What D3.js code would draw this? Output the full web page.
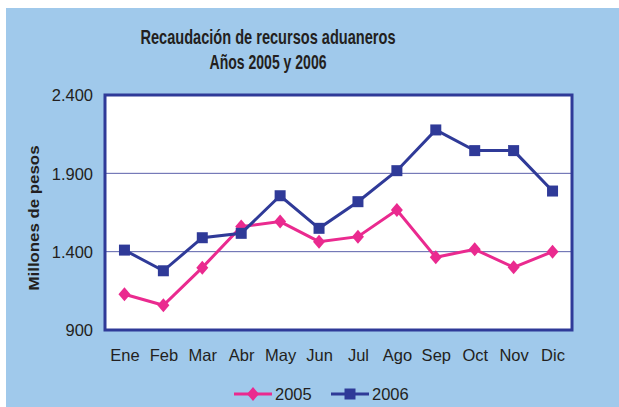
<!DOCTYPE html>
<html lang="es">
<head>
  <meta charset="UTF-8">
  <title>Recaudación de recursos aduaneros</title>
  <script src="https://d3js.org/d3.v7.min.js"></script>
  <style>
    body { margin: 0; background: #fff; }
    svg { display: block; }
    text { font-family: "Liberation Sans Narrow", "Arial Narrow", "Liberation Sans", Arial, sans-serif; fill: #231f20; }
    .ylab { font-family: "Liberation Sans", Arial, sans-serif; font-weight: bold; font-size: 15.5px; }
  </style>
</head>
<body>
<svg id="chart" width="619" height="407"></svg>
<script>
const months = ["Ene", "Feb", "Mar", "Abr", "May", "Jun", "Jul", "Ago", "Sep", "Oct", "Nov", "Dic"];
const values2005 = [1128, 1058, 1298, 1560, 1592, 1464, 1496, 1666, 1364, 1415, 1300, 1400];
const values2006 = [1410, 1278, 1489, 1517, 1757, 1549, 1719, 1917, 2177, 2045, 2045, 1787];
const yTicks = [900, 1400, 1900, 2400];
const titleLines = ["Recaudación de recursos aduaneros", "Años 2005 y 2006"];

const pink = "#ea2a8f";
const navy = "#2f3a98";

const margin = { left: 105, top: 95, right: 572, bottom: 330 };

const svg = d3.select("#chart");

// background panel
svg.append("rect")
  .attr("x", 6).attr("y", 8)
  .attr("width", 613).attr("height", 399)
  .attr("fill", "#a0c9eb");

// title
svg.append("text")
  .attr("x", 268).attr("y", 44)
  .attr("text-anchor", "middle")
  .style("font-weight", "bold").style("font-size", "20.5px")
  .attr("textLength", 255).attr("lengthAdjust", "spacingAndGlyphs")
  .text(titleLines[0]);
svg.append("text")
  .attr("x", 268).attr("y", 69)
  .attr("text-anchor", "middle")
  .style("font-weight", "bold").style("font-size", "20.5px")
  .attr("textLength", 117).attr("lengthAdjust", "spacingAndGlyphs")
  .text(titleLines[1]);

const x = d3.scalePoint()
  .domain(months)
  .range([margin.left, margin.right])
  .padding(0.5);

const y = d3.scaleLinear()
  .domain([900, 2400])
  .range([margin.bottom, margin.top]);

// plot area
svg.append("rect")
  .attr("x", margin.left).attr("y", margin.top)
  .attr("width", margin.right - margin.left)
  .attr("height", margin.bottom - margin.top)
  .attr("fill", "#fff");

// gridlines
svg.append("g")
  .selectAll("line")
  .data(yTicks.slice(1, -1))
  .join("line")
  .attr("x1", margin.left).attr("x2", margin.right)
  .attr("y1", d => y(d)).attr("y2", d => y(d))
  .attr("stroke", "#5b60aa").attr("stroke-width", 1);

// y axis labels
const fmt = d => d3.format(",")(d).replace(",", ".");
svg.append("g")
  .attr("transform", `translate(${margin.left},0)`)
  .call(d3.axisLeft(y).tickValues(yTicks).tickFormat(fmt).tickSize(0).tickPadding(12))
  .call(g => g.select(".domain").remove())
  .call(g => g.selectAll("text").style("font-size", "16.5px").attr("dy", "0.36em"));

// x axis labels
svg.append("g")
  .attr("transform", `translate(0,${margin.bottom})`)
  .call(d3.axisBottom(x).tickSize(0).tickPadding(19))
  .call(g => g.select(".domain").remove())
  .call(g => g.selectAll("text").style("font-size", "16.5px"));

// y axis title
svg.append("text")
  .attr("class", "ylab")
  .attr("transform", "translate(39,218) rotate(-90)")
  .attr("text-anchor", "middle")
  .attr("textLength", 145).attr("lengthAdjust", "spacingAndGlyphs")
  .text("Millones de pesos");

// plot border
svg.append("rect")
  .attr("x", margin.left).attr("y", margin.top)
  .attr("width", margin.right - margin.left)
  .attr("height", margin.bottom - margin.top)
  .attr("fill", "none")
  .attr("stroke", navy).attr("stroke-width", 3);

const line = d3.line()
  .x((d, i) => x(months[i]))
  .y(d => y(d));

// diamond a bit wider than d3's built-in one
const diamond = () => "M0,-7L6,0L0,7L-6,0Z";
const square = d3.symbol().type(d3.symbolSquare).size(121);

function drawSeries(vals, color, sym) {
  svg.append("path")
    .datum(vals)
    .attr("d", line)
    .attr("fill", "none")
    .attr("stroke", color)
    .attr("stroke-width", 3);
  svg.append("g")
    .selectAll("path")
    .data(vals)
    .join("path")
    .attr("transform", (d, i) => `translate(${x(months[i])},${y(d)})`)
    .attr("d", sym)
    .attr("fill", color);
}

drawSeries(values2005, pink, diamond);
drawSeries(values2006, navy, square);

// legend
const legend = [
  { name: "2005", color: pink, sym: diamond, x: 234 },
  { name: "2006", color: navy, sym: square, x: 331 }
];
const lg = svg.append("g").selectAll("g").data(legend).join("g")
  .attr("transform", d => `translate(${d.x},394)`);
lg.append("line")
  .attr("x1", 0).attr("x2", 38)
  .attr("stroke", d => d.color).attr("stroke-width", 3);
lg.append("path")
  .attr("transform", "translate(19,0)")
  .attr("d", d => d.sym())
  .attr("fill", d => d.color);
lg.append("text")
  .attr("x", 41).attr("y", 6)
  .style("font-size", "16.5px")
  .text(d => d.name);
</script>
</body>
</html>
